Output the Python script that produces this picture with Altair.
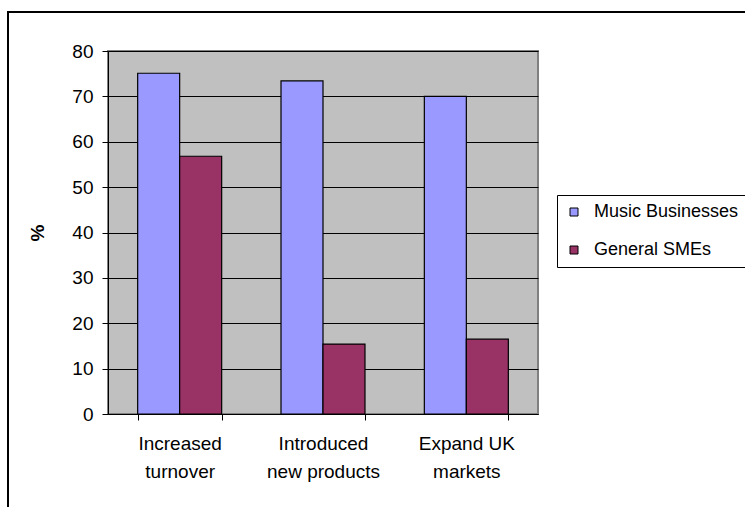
import altair as alt
import pandas as pd

categories = ["Increased\nturnover", "Introduced\nnew products", "Expand UK\nmarkets"]
series = ["Music Businesses", "General SMEs"]
music_values = [75.1, 73.4, 70.0]
general_values = [56.8, 15.4, 16.5]
y_ticks = [0, 10, 20, 30, 40, 50, 60, 70, 80]
colors = ["#9999FF", "#993366"]

rows = []
for c, m, g in zip(categories, music_values, general_values):
    rows.append({"category": c, "series": series[0], "value": m})
    rows.append({"category": c, "series": series[1], "value": g})
df = pd.DataFrame(rows)

FONT = "Liberation Sans"

bars = alt.Chart(df).mark_bar(stroke="black", strokeWidth=1.2).encode(
    x=alt.X("category:N", sort=categories,
            scale=alt.Scale(paddingInner=0.414, paddingOuter=0.207),
            axis=alt.Axis(title=None, labelAngle=0, tickBand="extent", tickSize=6,
                          labelPadding=14, labelLineHeight=28,
                          labelExpr="split(datum.label, '\\n')",
                          domainColor="black", tickColor="black", grid=False)),
    xOffset=alt.XOffset("series:N", sort=series, scale=alt.Scale(paddingInner=0, paddingOuter=0)),
    y=alt.Y("value:Q", scale=alt.Scale(domain=[0, 80], nice=False),
            axis=alt.Axis(title="%", values=y_ticks, tickSize=6, labelPadding=9,
                          titleFontWeight="bold", titleFontSize=19, titlePadding=24,
                          titleFont=FONT, titleColor="black",
                          grid=True, gridColor="black", gridWidth=1, gridOpacity=1,
                          domainColor="black", tickColor="black")),
    color=alt.Color("series:N", sort=series,
                    scale=alt.Scale(domain=series, range=colors),
                    legend=alt.Legend(title=None, orient="none", legendX=449, legendY=144,
                                      symbolType="square", symbolSize=64,
                                      symbolStrokeColor="black", symbolStrokeWidth=1,
                                      symbolOpacity=1,
                                      labelFont=FONT, labelFontSize=18, labelColor="black",
                                      labelOffset=11, rowPadding=20, padding=8,
                                      strokeColor="black", fillColor="white")),
)

frame = alt.Chart(pd.DataFrame({"f": [0]})).mark_rect(
    fill="white", fillOpacity=0, stroke="black", strokeWidth=2
).encode(
    x=alt.value(-100), x2=alt.value(700), y=alt.value(-39), y2=alt.value(520)
)

chart = alt.layer(frame, bars).properties(
    width=430, height=363,
    padding={"left": 108, "top": 51, "right": 207, "bottom": 93},
    autosize=alt.AutoSizeParams(type="none"),
    background="white",
).configure_view(
    fill="#C0C0C0", stroke="#808080", strokeWidth=2
).configure_axis(
    labelFont=FONT, labelFontSize=19, labelColor="black",
)

chart.save("out.html", embed_options={"renderer": "svg", "actions": False})
